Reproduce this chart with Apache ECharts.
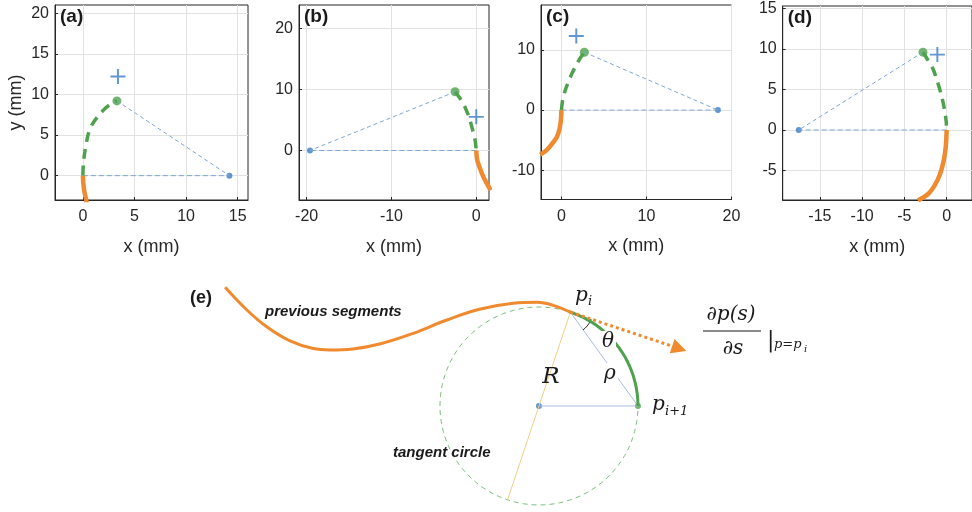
<!DOCTYPE html>
<html>
<head>
<meta charset="utf-8">
<script src="https://cdn.jsdelivr.net/npm/echarts@6/dist/echarts.min.js"></script>
<style>
  html, body { margin: 0; padding: 0; background: #fff; }
  #chart { width: 972px; height: 512px; }
</style>
</head>
<body>
<div id="chart"></div>
<script>
// ---- panel (a) ----
var aOrange = [[0, 0], [0.05, -1], [0.15, -2], [0.33, -3], [0.42, -3.6]];
var aGreen = [[0, 0], [0.05, 1.5], [0.2, 3], [0.5, 5], [0.9, 6.3], [1.4, 7.2], [2.1, 8.2], [2.7, 8.8], [3.3, 9.2]];
var aTip = [3.3, 9.2];
var aTarget = [3.4, 12.2];
var aBase = [14.2, 0];
var aXTicks = [0, 5, 10, 15];
var aYTicks = [0, 5, 10, 15, 20];

// ---- panel (b) ----
var bOrange = [[0, 0], [0.1, -1.5], [0.4, -2.8], [0.8, -4.2], [1.2, -5.3], [1.7, -6.5]];
var bGreen = [[-2.5, 9.6], [-1.9, 8.5], [-1.3, 7], [-0.8, 5.2], [-0.4, 3.2], [-0.12, 1.5], [0, 0]];
var bTip = [-2.5, 9.6];
var bTarget = [0, 5.5];
var bBase = [-19.6, 0];
var bXTicks = [-20, -10, 0];
var bYTicks = [0, 10, 20];

// ---- panel (c) ----
var cOrange = [[0, 0], [-0.05, -1.5], [-0.2, -3], [-0.55, -4.5], [-1.1, -5.6], [-1.7, -6.6], [-2.5, -7.4]];
var cGreen = [[0, 0], [0.15, 1.7], [0.45, 3.3], [0.85, 4.8], [1.25, 6.1], [1.75, 7.5], [2.2, 8.6], [2.7, 9.6]];
var cTip = [2.7, 9.6];
var cTarget = [1.75, 12.3];
var cBase = [18.4, 0];
var cXTicks = [0, 10, 20];
var cYTicks = [-10, 0, 10];

// ---- panel (d) ----
var dOrange = [[0, 0], [-0.1, -2], [-0.35, -3.8], [-0.8, -5.5], [-1.4, -6.8], [-2.2, -7.9], [-3.4, -8.7]];
var dGreen = [[-2.8, 9.6], [-2.2, 8.6], [-1.6, 7.5], [-1.1, 6], [-0.6, 4.2], [-0.25, 2.5], [-0.05, 1], [0, 0]];
var dTip = [-2.8, 9.6];
var dTarget = [-1.1, 9.3];
var dBase = [-17.5, 0];
var dXTicks = [-15, -10, -5, 0];
var dYTicks = [-5, 0, 5, 10, 15];

// ---- diagram (e), units of the circle radius, centre at origin ----
var prevSegment = [
  [-3.17, 1.2], [-2.95, 0.97], [-2.75, 0.8], [-2.52, 0.66], [-2.28, 0.58], [-2.11, 0.566],
  [-1.88, 0.576], [-1.61, 0.626], [-1.27, 0.734], [-0.93, 0.869], [-0.6, 0.977],
  [-0.26, 1.037], [-0.02, 1.047], [0.144, 1.017], [0.317, 0.948]
];
var circleCenter = [0, 0];
var circleRadius = 1;
var piAngleDeg = 71.5;
var nextAngleDeg = 0;
var tangentLength = 1.16;
var thetaArcRadius = 0.22;

var C_ORANGE = '#ef8a2f';
var C_GREEN = '#4ea24e';
var C_BLUE = '#3b7cc4';
var C_THIN = '#7ea6d6';
var C_TEXT = '#262626';

var panels = [
  { label: '(a)', orange: aOrange, green: aGreen, tip: aTip, target: aTarget, base: aBase, xt: aXTicks, yt: aYTicks, xr: [-2.7, 16], yr: [-3, 21], box: [55, 5, 193, 195], yName: true },
  { label: '(b)', orange: bOrange, green: bGreen, tip: bTip, target: bTarget, base: bBase, xt: bXTicks, yt: bYTicks, xr: [-20.9, 1.5], yr: [-8.1, 23.8], box: [299, 5, 190, 195] },
  { label: '(c)', orange: cOrange, green: cGreen, tip: cTip, target: cTarget, base: cBase, xt: cXTicks, yt: cYTicks, xr: [-2.4, 20], yr: [-14.85, 17.45], box: [541, 5, 190.5, 194.5] },
  { label: '(d)', orange: dOrange, green: dGreen, tip: dTip, target: dTarget, base: dBase, xt: dXTicks, yt: dYTicks, xr: [-19.4, 3], yr: [-8.64, 15.3], box: [782.7, 6, 190.8, 194] }
];

var crossPath = 'path://M8.7,0h2.6v20h-2.6zM0,8.7h20v2.6h-20z';

var grids = [], xAxes = [], yAxes = [], series = [], graphics = [];

panels.forEach(function (p, i) {
  grids.push({
    left: p.box[0], top: p.box[1], width: p.box[2], height: p.box[3],
    show: true, borderColor: C_TEXT, borderWidth: 1, backgroundColor: '#fff'
  });
  xAxes.push({
    type: 'value', gridIndex: i, min: p.xr[0], max: p.xr[1],
    axisLine: { show: true, onZero: false, lineStyle: { color: C_TEXT } },
    axisTick: { inside: true, length: 3, customValues: p.xt, lineStyle: { color: C_TEXT } },
    axisLabel: { customValues: p.xt, fontSize: 16, color: C_TEXT, margin: 9, fontFamily: 'Liberation Sans' },
    splitLine: { show: true, lineStyle: { color: '#e2e2e2' } },
    name: 'x (mm)', nameLocation: 'middle', nameGap: 38,
    nameTextStyle: { fontSize: 18, color: C_TEXT, fontFamily: 'Liberation Sans' }
  });
  yAxes.push({
    type: 'value', gridIndex: i, min: p.yr[0], max: p.yr[1],
    axisLine: { show: true, onZero: false, lineStyle: { color: C_TEXT } },
    axisTick: { inside: true, length: 3, customValues: p.yt, lineStyle: { color: C_TEXT } },
    axisLabel: { customValues: p.yt, fontSize: 16, color: C_TEXT, margin: 6, fontFamily: 'Liberation Sans' },
    splitLine: { show: true, lineStyle: { color: '#e2e2e2' } },
    name: p.yName ? 'y (mm)' : '', nameLocation: 'middle', nameGap: 30,
    nameTextStyle: { fontSize: 18, color: C_TEXT, fontFamily: 'Liberation Sans' }
  });

  var base = { xAxisIndex: i, yAxisIndex: i, silent: true, animation: false };
  series.push(Object.assign({}, base, {
    type: 'line', data: [p.tip, p.base], symbol: 'none',
    lineStyle: { color: C_THIN, width: 1, type: [4, 3] }
  }));
  series.push(Object.assign({}, base, {
    type: 'line', data: [[0, 0], p.base], symbol: 'none',
    lineStyle: { color: C_THIN, width: 1, type: [5, 3] }
  }));
  series.push(Object.assign({}, base, {
    type: 'line', data: p.orange, symbol: 'none', smooth: 0.3,
    lineStyle: { color: C_ORANGE, width: 4.5 }
  }));
  series.push(Object.assign({}, base, {
    type: 'line', data: p.green, symbol: 'none', smooth: 0.3,
    lineStyle: { color: C_GREEN, width: 3.5, type: [10, 7] }
  }));
  series.push(Object.assign({}, base, {
    type: 'scatter', data: [p.tip], symbolSize: 9, itemStyle: { color: C_GREEN }
  }));
  series.push(Object.assign({}, base, {
    type: 'scatter', data: [p.base], symbolSize: 6, itemStyle: { color: C_BLUE }
  }));
  series.push(Object.assign({}, base, {
    type: 'scatter', data: [p.target], symbol: crossPath, symbolSize: 15, itemStyle: { color: C_BLUE }
  }));

  graphics.push({
    type: 'text', left: p.box[0] + 5, top: p.box[1] + 2, z: 100,
    style: { text: p.label, font: 'bold 19px "Liberation Sans"', fill: '#1a1a1a' }
  });
});

// ---- diagram (e) geometry ----
function onCircle(deg) {
  var r = deg * Math.PI / 180;
  return [circleCenter[0] + circleRadius * Math.cos(r), circleCenter[1] + circleRadius * Math.sin(r)];
}
var pi = onCircle(piAngleDeg);
var pNext = onCircle(nextAngleDeg);
var antipode = onCircle(piAngleDeg + 180);

var circlePts = [];
for (var k = 0; k <= 120; k++) circlePts.push(onCircle(k * 3));
var arcPts = [];
for (var k = 0; k <= 30; k++) arcPts.push(onCircle(piAngleDeg - (piAngleDeg - nextAngleDeg) * k / 30));

var tRad = (piAngleDeg - 90) * Math.PI / 180;
var tangentEnd = [pi[0] + tangentLength * Math.cos(tRad), pi[1] + tangentLength * Math.sin(tRad)];
var chordRad = Math.atan2(pNext[1] - pi[1], pNext[0] - pi[0]);
var thetaPts = [];
for (var k = 0; k <= 12; k++) {
  var a = tRad + (chordRad - tRad) * k / 12;
  thetaPts.push([pi[0] + thetaArcRadius * Math.cos(a), pi[1] + thetaArcRadius * Math.sin(a)]);
}

var eIdx = 4;
grids.push({ left: 0, top: 260, width: 972, height: 252 });
xAxes.push({ type: 'value', gridIndex: eIdx, min: -5.444, max: 4.374, show: false });
yAxes.push({ type: 'value', gridIndex: eIdx, min: -1.071, max: 1.475, show: false });

var eb = { xAxisIndex: eIdx, yAxisIndex: eIdx, silent: true, animation: false, symbol: 'none', clip: false };
series.push(Object.assign({}, eb, {
  type: 'line', data: circlePts, lineStyle: { color: '#7cbf7c', width: 1, type: [5, 4] }
}));
series.push(Object.assign({}, eb, {
  type: 'line', data: [pi, antipode], lineStyle: { color: '#f4cf86', width: 1 }
}));
series.push(Object.assign({}, eb, {
  type: 'line', data: [circleCenter, pNext], lineStyle: { color: '#a9bde0', width: 1 }
}));
series.push(Object.assign({}, eb, {
  type: 'line', data: [pi, pNext], lineStyle: { color: '#a9bde0', width: 1 }
}));
series.push(Object.assign({}, eb, {
  type: 'line', data: thetaPts, lineStyle: { color: '#222', width: 1 }
}));
series.push(Object.assign({}, eb, {
  type: 'line', data: prevSegment, smooth: 0.4, lineStyle: { color: C_ORANGE, width: 3 }
}));
series.push(Object.assign({}, eb, {
  type: 'line', data: arcPts, lineStyle: { color: C_GREEN, width: 3 }
}));
series.push(Object.assign({}, eb, {
  type: 'line', data: [pi, pi], lineStyle: { opacity: 0 },
  markLine: {
    silent: true, animation: false, symbol: ['none', 'triangle'], symbolSize: [15, 15],
    label: { show: false },
    lineStyle: { color: C_ORANGE, width: 3, type: [3, 3] },
    data: [[{ coord: pi }, { coord: tangentEnd }]]
  }
}));
series.push(Object.assign({}, eb, {
  type: 'scatter', symbol: 'circle', data: [circleCenter], symbolSize: 6, itemStyle: { color: C_BLUE }
}));
series.push(Object.assign({}, eb, {
  type: 'scatter', symbol: 'circle', data: [pNext], symbolSize: 6, itemStyle: { color: C_GREEN }
}));
series.push(Object.assign({}, eb, {
  type: 'scatter', symbol: 'circle', data: [pi], symbolSize: 4, itemStyle: { color: C_ORANGE }
}));

// ---- diagram text ----
var MATH = '"DejaVu Serif"';
function txt(x, y, s, font, align, bg) {
  var st = { text: s, font: font, fill: '#1a1a1a', align: align || 'left', verticalAlign: 'middle' };
  if (bg) { st.backgroundColor = '#fff'; st.padding = [1, 2]; }
  graphics.push({ type: 'text', x: x, y: y, z: 100, style: st });
}
txt(190, 298, '(e)', 'bold 18px "Liberation Sans"');
txt(265, 312, 'previous segments', 'italic bold 15px "Liberation Sans"');
txt(393, 453, 'tangent circle', 'italic bold 15px "Liberation Sans"');
txt(575, 296, 'p', 'italic 20px ' + MATH);
txt(588, 302, 'i', 'italic 13px ' + MATH);
txt(608, 342, 'θ', 'italic 20px ' + MATH, 'center', true);
txt(610, 374, 'ρ', 'italic 20px ' + MATH, 'center', true);
txt(551, 377, 'R', 'italic 23px ' + MATH, 'center');
txt(652, 405, 'p', 'italic 20px ' + MATH);
txt(665, 412, 'i+1', 'italic 13px ' + MATH);
txt(731, 315, '∂p(s)', 'italic 20px ' + MATH, 'center');
txt(733, 349, '∂s', 'italic 20px ' + MATH, 'center');
txt(767, 341, '|', '22px ' + MATH);
txt(774, 345, 'p=p', 'italic 13px ' + MATH);
txt(804, 349, 'i', 'italic 10px ' + MATH);
graphics.push({
  type: 'line', z: 100,
  shape: { x1: 703, y1: 331, x2: 761, y2: 331 },
  style: { stroke: '#1a1a1a', lineWidth: 1.2 }
});

var chart = echarts.init(document.getElementById('chart'));
chart.setOption({
  backgroundColor: '#fff',
  animation: false,
  grid: grids,
  xAxis: xAxes,
  yAxis: yAxes,
  series: series,
  graphic: graphics
});
</script>
</body>
</html>
